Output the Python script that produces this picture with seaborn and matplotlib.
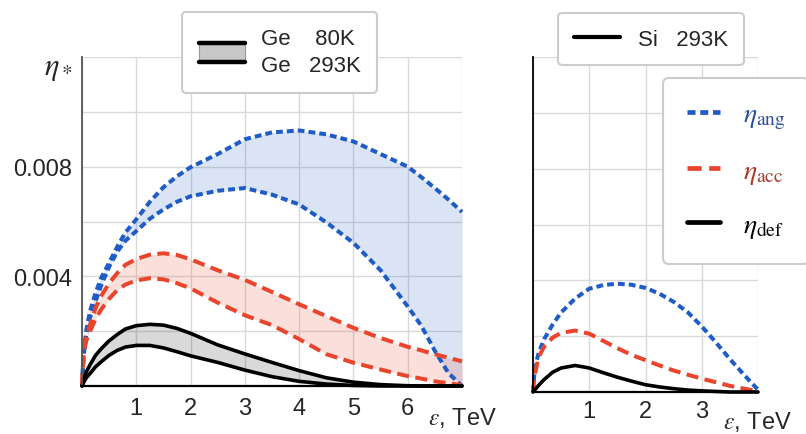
import numpy as np
import pandas as pd
import matplotlib.pyplot as plt
import seaborn as sns
from matplotlib.lines import Line2D
from matplotlib.patches import Rectangle
from matplotlib.legend_handler import HandlerBase
from matplotlib.ticker import MultipleLocator

# energy grid (TeV) and efficiencies, in units of 1e-3
eps_ge = [0, 0.03, 0.08, 0.15, 0.25, 0.35, 0.5, 0.65, 0.8, 1.0, 1.25, 1.5, 1.75,
          2.0, 2.5, 3.0, 3.5, 4.0, 4.5, 5.0, 5.5, 6.0, 6.25, 6.5, 6.75, 7.0]
ang_ge80 = [0, 1.2, 2.05, 2.75, 3.4, 3.93, 4.5, 5.08, 5.6, 6.08, 6.72, 7.25, 7.65,
            7.98, 8.46, 9.0, 9.25, 9.32, 9.18, 8.92, 8.46, 8.0, 7.62, 7.22, 6.8, 6.35]
ang_ge293 = [0, 1.1, 1.9, 2.5, 3.08, 3.65, 4.35, 4.9, 5.3, 5.65, 6.1, 6.44, 6.72,
             6.92, 7.12, 7.22, 6.98, 6.62, 5.97, 5.22, 4.22, 2.9, 2.2, 1.28, 0.47, 0.0]
acc_ge80 = [0, 1.3, 1.8, 2.25, 2.85, 3.27, 3.75, 4.12, 4.42, 4.63, 4.79, 4.84, 4.78,
            4.62, 4.22, 3.87, 3.43, 2.98, 2.55, 2.12, 1.75, 1.43, 1.3, 1.16, 1.03, 0.9]
acc_ge293 = [0, 1.2, 1.65, 2.0, 2.45, 2.78, 3.18, 3.5, 3.7, 3.85, 3.93, 3.89, 3.75,
             3.56, 3.04, 2.58, 2.22, 1.71, 1.16, 0.85, 0.6, 0.36, 0.27, 0.17, 0.1, 0.03]
def_ge80 = [0, 0.22, 0.52, 0.78, 1.12, 1.35, 1.65, 1.88, 2.08, 2.2, 2.25, 2.22, 2.1,
            1.92, 1.5, 1.17, 0.86, 0.56, 0.3, 0.14, 0.05, 0.01, 0.0, 0.0, 0.0, 0.0]
def_ge293 = [0, 0.13, 0.3, 0.46, 0.7, 0.88, 1.12, 1.3, 1.42, 1.48, 1.48, 1.39, 1.25,
             1.1, 0.86, 0.58, 0.34, 0.17, 0.07, 0.02, 0.0, 0.0, 0.0, 0.0, 0.0, 0.0]

eps_si = [0, 0.03, 0.1, 0.2, 0.35, 0.5, 0.75, 1.0, 1.25, 1.5, 1.75, 2.0, 2.25,
          2.5, 2.75, 3.0, 3.25, 3.5, 3.75, 4.0]
ang_si = [0, 0.83, 1.4, 1.9, 2.42, 2.85, 3.35, 3.7, 3.83, 3.88, 3.84, 3.73, 3.52,
          3.23, 2.86, 2.35, 1.78, 1.18, 0.62, 0.08]
acc_si = [0, 0.6, 1.25, 1.63, 1.95, 2.12, 2.2, 2.09, 1.83, 1.57, 1.33, 1.14, 0.95,
          0.77, 0.62, 0.48, 0.35, 0.22, 0.12, 0.03]
def_si = [0, 0.07, 0.24, 0.45, 0.71, 0.86, 0.95, 0.86, 0.69, 0.53, 0.39, 0.26, 0.18,
          0.12, 0.07, 0.04, 0.02, 0.0, 0.0, 0.0]

y_ticks = [0.004, 0.008]
y_ticklabels = ["0.004", "0.008"]

ge = pd.DataFrame({"eps": eps_ge, "ang80": ang_ge80, "ang293": ang_ge293,
                   "acc80": acc_ge80, "acc293": acc_ge293,
                   "def80": def_ge80, "def293": def_ge293})
si = pd.DataFrame({"eps": eps_si, "ang": ang_si, "acc": acc_si, "def": def_si})
ge.iloc[:, 1:] *= 1e-3
si.iloc[:, 1:] *= 1e-3

sns.set_style("whitegrid")
plt.rcParams["font.family"] = ["Liberation Sans", "DejaVu Sans"]
plt.rcParams["mathtext.fontset"] = "stix"

BLUE = "#1f5cc6"
RED = "#e8452c"
DOT = (0, (1.7, 1.0))
DASH = (0, (3.0, 1.6))

fig = plt.figure(figsize=(8.06, 4.35), dpi=100)
ax1 = fig.add_axes([82 / 806, 48 / 435, 380 / 806, 329 / 435])
ax2 = fig.add_axes([533 / 806, 42 / 435, 225 / 806, 335 / 435])

# Ge bands
ax1.fill_between(ge.eps, ge.ang293, ge.ang80, color=BLUE, alpha=0.16, lw=0)
ax1.fill_between(ge.eps, ge.acc293, ge.acc80, color=RED, alpha=0.17, lw=0)
ax1.fill_between(ge.eps, ge.def293, ge.def80, color="black", alpha=0.15, lw=0)
for col, c, ls, w in [("ang80", BLUE, DOT, 2.9), ("ang293", BLUE, DOT, 2.9),
                      ("acc80", RED, DASH, 2.9), ("acc293", RED, DASH, 2.9),
                      ("def80", "black", "-", 2.6), ("def293", "black", "-", 2.6)]:
    sns.lineplot(data=ge, x="eps", y=col, ax=ax1, color=c, linestyle=ls, lw=w,
                 legend=False, clip_on=False)

# Si curves
for col, c, ls, w in [("ang", BLUE, DOT, 2.9), ("acc", RED, DASH, 2.9),
                      ("def", "black", "-", 2.6)]:
    sns.lineplot(data=si, x="eps", y=col, ax=ax2, color=c, linestyle=ls, lw=w,
                 legend=False, clip_on=False)

for ax in (ax1, ax2):
    ax.set_ylim(0, 0.012)
    ax.set_xlabel("")
    ax.set_ylabel("")
    ax.yaxis.set_minor_locator(MultipleLocator(0.002))
    ax.xaxis.set_minor_locator(MultipleLocator(1))
    ax.grid(which="both", color="#d9d9d9", lw=1)
    ax.spines["top"].set_visible(False)
    ax.spines["right"].set_visible(False)
    ax.spines["left"].set_color("#555555")
    ax.spines["left"].set_linewidth(1.3)
    ax.spines["bottom"].set_color("black")
    ax.spines["bottom"].set_linewidth(1.6)
    ax.tick_params(which="major", direction="in", length=4, width=1,
                   color="#555555", labelsize=17)
    ax.tick_params(which="minor", length=0)

ax1.set_xlim(0, 7)
ax1.set_xticks(range(1, 7))
ax1.set_yticks(y_ticks)
ax1.set_yticklabels(y_ticklabels)
ax1.tick_params(axis="x", pad=8)
ax1.tick_params(axis="y", pad=7)

ax2.set_xlim(0, 4)
ax2.set_xticks([1, 2, 3])
ax2.set_yticks(y_ticks)
ax2.set_yticklabels([])
ax2.spines["left"].set_color("black")
ax2.tick_params(axis="x", pad=6)


class BandHandler(HandlerBase):
    def create_artists(self, legend, orig_handle, xdescent, ydescent,
                       width, height, fontsize, trans):
        x0, y0 = -xdescent, -ydescent
        box = Rectangle((x0, y0), width, height, facecolor="#c8c8c8",
                        edgecolor="#999999", lw=0.8, transform=trans)
        top = Line2D([x0, x0 + width], [y0 + height] * 2, color="k", lw=3.2,
                     transform=trans)
        bot = Line2D([x0, x0 + width], [y0, y0], color="k", lw=3.2,
                     transform=trans)
        return [box, top, bot]


frame_kw = dict(frameon=True, fancybox=True, edgecolor="#cccccc", framealpha=1)

band = Rectangle((0, 0), 1, 1)
leg1 = fig.legend([band], ["Ge    80K\nGe   293K"],
                  handler_map={Rectangle: BandHandler()}, loc="center",
                  bbox_to_anchor=(0.347, 0.878), fontsize=16, handlelength=2.1,
                  handleheight=0.9, handletextpad=0.7, borderpad=0.75, **frame_kw)
leg1.get_texts()[0].set_linespacing(1.35)
leg1.get_frame().set_linewidth(1.5)

leg2 = fig.legend([Line2D([], [], color="black", lw=3)], ["Si   293K"],
                  loc="center", bbox_to_anchor=(651 / 806, 1 - 40 / 435),
                  fontsize=16, handlelength=2.1, handletextpad=0.8,
                  borderpad=0.7, **frame_kw)
leg2.get_frame().set_linewidth(1.5)

eta_handles = [Line2D([], [], color=BLUE, lw=3.4, linestyle=DOT),
               Line2D([], [], color=RED, lw=3.4, linestyle=DASH),
               Line2D([], [], color="black", lw=3.4)]
eta_labels = [r"$\eta_{\mathrm{ang}}$", r"$\eta_{\mathrm{acc}}$",
              r"$\eta_{\mathrm{def}}$"]
leg3 = fig.legend(eta_handles, eta_labels, loc="center",
                  bbox_to_anchor=(736 / 806, 1 - 172 / 435), fontsize=20,
                  labelcolor=["#2a4f9c", "#a8392b", "black"], handlelength=1.2,
                  labelspacing=0.95, handletextpad=0.8, borderpad=0.85, **frame_kw)
leg3.get_frame().set_linewidth(1.5)

fig.text(58 / 806, 1 - 68 / 435, r"$\eta_*$", fontsize=22, ha="center", va="center")
fig.text(428 / 806, 1 - 418 / 435, r"$\varepsilon$, TeV", fontsize=17,
         ha="left", va="center")
fig.text(723 / 806, 1 - 422 / 435, r"$\varepsilon$, TeV", fontsize=17,
         ha="left", va="center")

fig.savefig("out.png", dpi=100)
